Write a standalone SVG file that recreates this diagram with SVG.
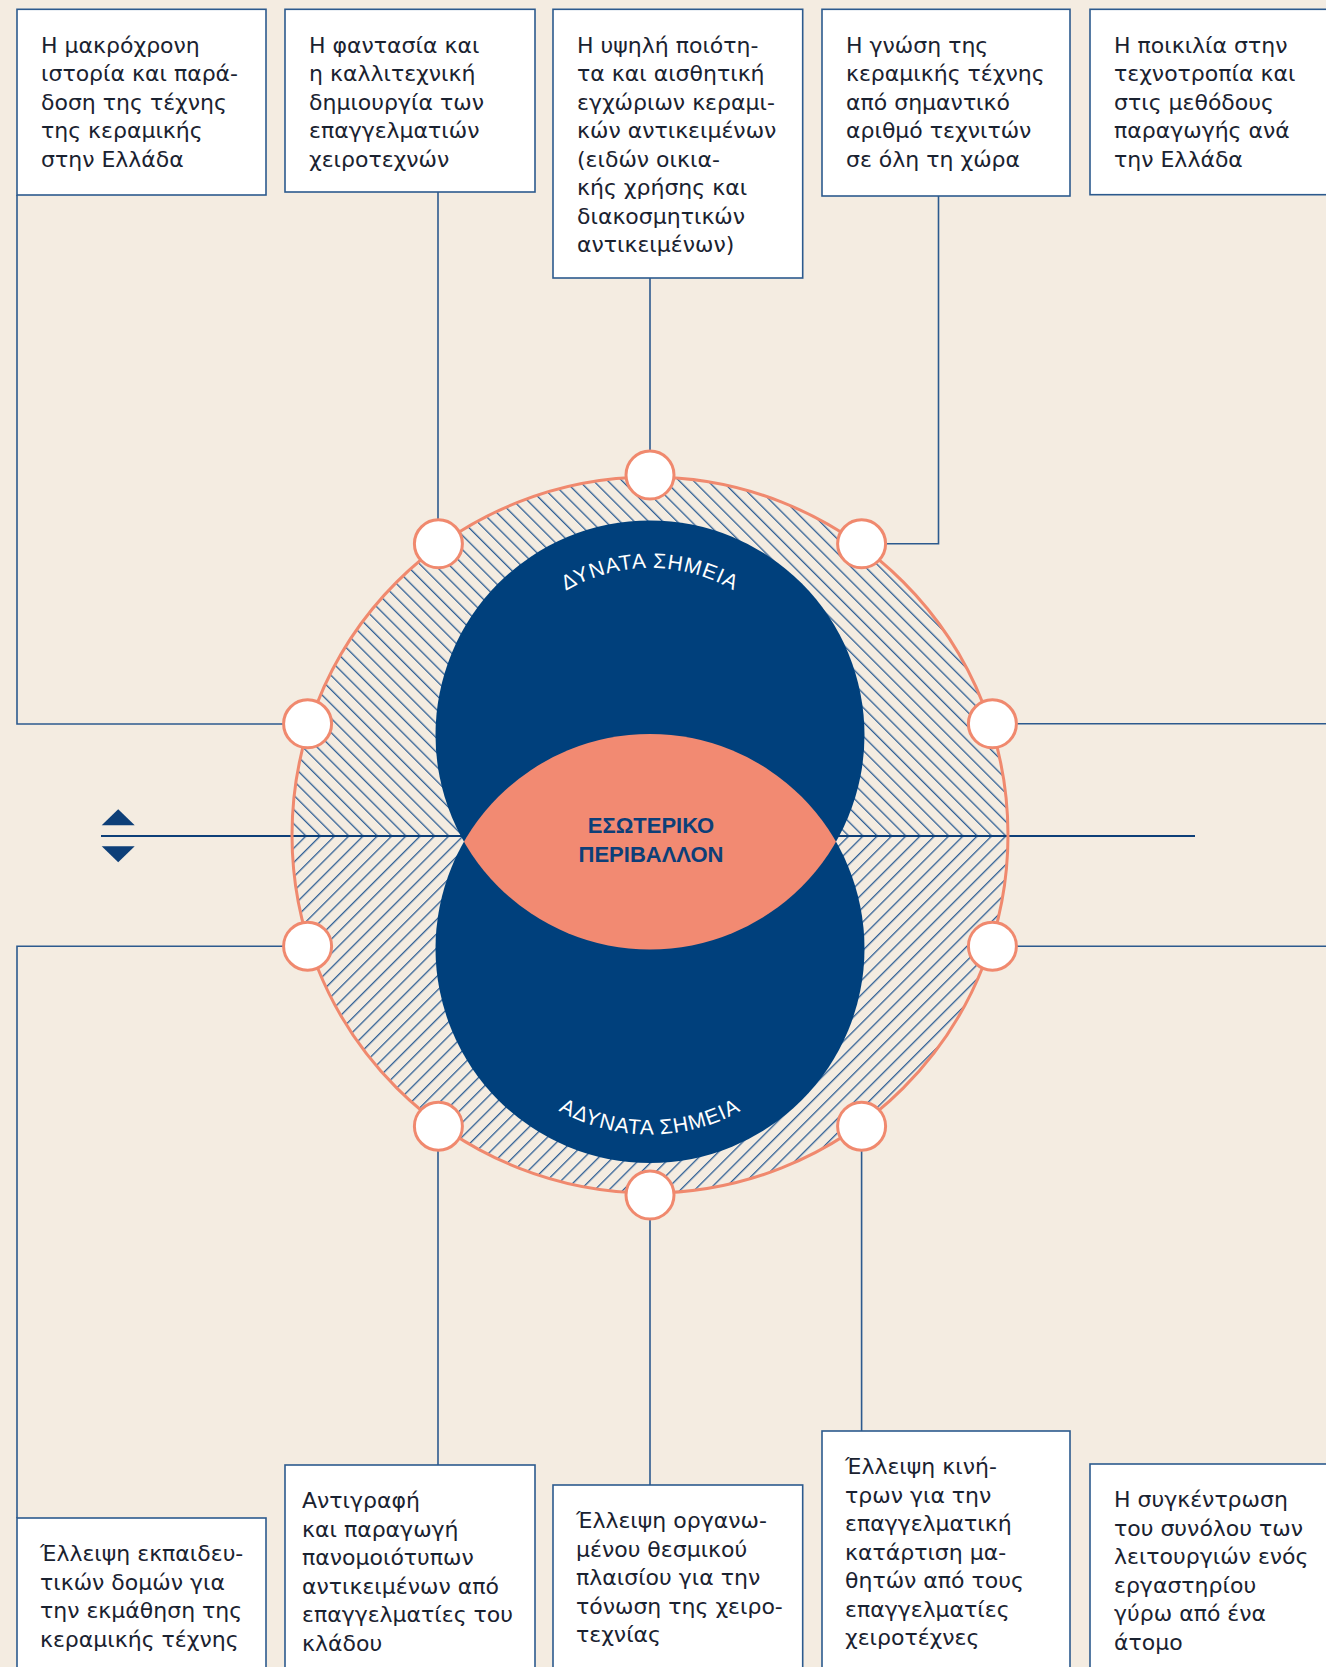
<svg xmlns="http://www.w3.org/2000/svg" width="1326" height="1667" viewBox="0 0 1326 1667">
<style>
.bg{fill:#F4ECE1}
.box{fill:#FFFFFF;stroke:#2C5A8E;stroke-width:1.6}
.txt{font-family:"DejaVu Sans","Noto Sans",sans-serif;font-size:22px;fill:#1A2230}
.con{fill:none;stroke:#2C5A8E;stroke-width:1.6}
.node{fill:#FFFFFF;stroke:#F0896E;stroke-width:3}
.axis{stroke:#0D3F78;stroke-width:2.2}
.lbl{font-family:"Liberation Sans","DejaVu Sans",sans-serif;font-size:21px;fill:#FFFFFF;letter-spacing:1px}
.ctr{font-family:"Liberation Sans","DejaVu Sans",sans-serif;font-size:22px;font-weight:bold;fill:#0D3F78;text-anchor:middle}
</style>
<defs>
<pattern id="hatchA" patternUnits="userSpaceOnUse" width="10.1" height="10.1" patternTransform="translate(305,836) rotate(-45)">
<rect x="0" y="0" width="1.3" height="10.1" fill="#2F5F95"/>
</pattern>
<pattern id="hatchB" patternUnits="userSpaceOnUse" width="10.1" height="10.1" patternTransform="translate(305,836) rotate(45)">
<rect x="0" y="0" width="1.3" height="10.1" fill="#2F5F95"/>
</pattern>
<clipPath id="upper"><rect x="0" y="0" width="1326" height="836"/></clipPath>
<clipPath id="lower"><rect x="0" y="836" width="1326" height="831"/></clipPath>
<clipPath id="topCircle"><circle cx="650" cy="735" r="214.5"/></clipPath>
<path id="arcTop" d="M 483 735 A 167 167 0 0 1 817 735"/>
<path id="arcBot" d="M 464 948.5 A 186 186 0 0 0 836 948.5"/>
</defs>
<rect class="bg" x="0" y="0" width="1326" height="1667"/>

<g id="ring">
<circle cx="650" cy="835" r="358" fill="url(#hatchA)" clip-path="url(#upper)"/>
<circle cx="650" cy="835" r="358" fill="url(#hatchB)" clip-path="url(#lower)"/>
</g>

<g id="axis">
<line class="axis" x1="101" y1="836" x2="1195" y2="836"/>
<polygon points="101.7,825.3 134.7,825.3 118.2,809.3" fill="#0D3F78"/>
<polygon points="101.7,846.3 134.7,846.3 118.2,862.3" fill="#0D3F78"/>
</g>

<g id="core">
<circle cx="650" cy="735" r="214.5" fill="#00407C"/>
<circle cx="650" cy="948.5" r="214.5" fill="#00407C"/>
<circle cx="650" cy="948.5" r="214.5" fill="#F28A72" clip-path="url(#topCircle)"/>
<circle cx="650" cy="835" r="358" fill="none" stroke="#F0896E" stroke-width="3"/>
<text class="lbl"><textPath href="#arcTop" startOffset="50%" text-anchor="middle">ΔΥΝΑΤΑ ΣΗΜΕΙΑ</textPath></text>
<text class="lbl"><textPath href="#arcBot" startOffset="50%" text-anchor="middle">ΑΔΥΝΑΤΑ ΣΗΜΕΙΑ</textPath></text>
<text class="ctr" x="651" y="833">ΕΣΩΤΕΡΙΚΟ</text>
<text class="ctr" x="651" y="862">ΠΕΡΙΒΑΛΛΟΝ</text>
</g>

<g id="connectors">
<polyline class="con" points="17,195 17,724 307.6,724"/>
<polyline class="con" points="438,192 438,543.8"/>
<polyline class="con" points="650,278 650,475"/>
<polyline class="con" points="938.5,196 938.5,543.8 861.6,543.8"/>
<polyline class="con" points="992.4,723.8 1330,723.8"/>
<polyline class="con" points="307.6,946.2 17,946.2 17,1518"/>
<polyline class="con" points="438,1126.2 438,1465"/>
<polyline class="con" points="650,1195 650,1485"/>
<polyline class="con" points="861.6,1126.2 861.6,1431"/>
<polyline class="con" points="992.4,946.2 1330,946.2"/>
</g>

<g id="nodes">
<circle class="node" cx="650" cy="475" r="24"/>
<circle class="node" cx="438.4" cy="543.8" r="24"/>
<circle class="node" cx="861.6" cy="543.8" r="24"/>
<circle class="node" cx="307.6" cy="723.8" r="24"/>
<circle class="node" cx="992.4" cy="723.8" r="24"/>
<circle class="node" cx="307.6" cy="946.2" r="24"/>
<circle class="node" cx="992.4" cy="946.2" r="24"/>
<circle class="node" cx="438.4" cy="1126.2" r="24"/>
<circle class="node" cx="861.6" cy="1126.2" r="24"/>
<circle class="node" cx="650" cy="1195" r="24"/>
</g>

<g id="box-s1">
<rect class="box" x="17" y="9.3" width="249" height="185.7"/>
<text class="txt" x="41" y="52.5"><tspan x="41">Η μακρόχρονη</tspan><tspan x="41" dy="28.5">ιστορία και παρά-</tspan><tspan x="41" dy="28.5">δοση της τέχνης</tspan><tspan x="41" dy="28.5">της κεραμικής</tspan><tspan x="41" dy="28.5">στην Ελλάδα</tspan></text>
</g>
<g id="box-s2">
<rect class="box" x="285" y="9.3" width="250" height="182.7"/>
<text class="txt" x="309" y="52.5"><tspan x="309">Η φαντασία και</tspan><tspan x="309" dy="28.5">η καλλιτεχνική</tspan><tspan x="309" dy="28.5">δημιουργία των</tspan><tspan x="309" dy="28.5">επαγγελματιών</tspan><tspan x="309" dy="28.5">χειροτεχνών</tspan></text>
</g>
<g id="box-s3">
<rect class="box" x="553" y="9.3" width="249.7" height="268.7"/>
<text class="txt" x="577" y="52.5"><tspan x="577">Η υψηλή ποιότη-</tspan><tspan x="577" dy="28.5">τα και αισθητική</tspan><tspan x="577" dy="28.5">εγχώριων κεραμι-</tspan><tspan x="577" dy="28.5">κών αντικειμένων</tspan><tspan x="577" dy="28.5">(ειδών οικια-</tspan><tspan x="577" dy="28.5">κής χρήσης και</tspan><tspan x="577" dy="28.5">διακοσμητικών</tspan><tspan x="577" dy="28.5">αντικειμένων)</tspan></text>
</g>
<g id="box-s4">
<rect class="box" x="822" y="9.3" width="248" height="186.7"/>
<text class="txt" x="846" y="52.5"><tspan x="846">Η γνώση της</tspan><tspan x="846" dy="28.5">κεραμικής τέχνης</tspan><tspan x="846" dy="28.5">από σημαντικό</tspan><tspan x="846" dy="28.5">αριθμό τεχνιτών</tspan><tspan x="846" dy="28.5">σε όλη τη χώρα</tspan></text>
</g>
<g id="box-s5">
<rect class="box" x="1090" y="9.3" width="250" height="185.4"/>
<text class="txt" x="1114" y="52.5"><tspan x="1114">Η ποικιλία στην</tspan><tspan x="1114" dy="28.5">τεχνοτροπία και</tspan><tspan x="1114" dy="28.5">στις μεθόδους</tspan><tspan x="1114" dy="28.5">παραγωγής ανά</tspan><tspan x="1114" dy="28.5">την Ελλάδα</tspan></text>
</g>

<g id="box-w1">
<rect class="box" x="17" y="1518" width="249" height="170"/>
<text class="txt" x="40" y="1561"><tspan x="40">Έλλειψη εκπαιδευ-</tspan><tspan x="40" dy="28.5">τικών δομών για</tspan><tspan x="40" dy="28.5">την εκμάθηση της</tspan><tspan x="40" dy="28.5">κεραμικής τέχνης</tspan></text>
</g>
<g id="box-w2">
<rect class="box" x="285" y="1465" width="250" height="220"/>
<text class="txt" x="302" y="1508"><tspan x="302">Αντιγραφή</tspan><tspan x="302" dy="28.5">και παραγωγή</tspan><tspan x="302" dy="28.5">πανομοιότυπων</tspan><tspan x="302" dy="28.5">αντικειμένων από</tspan><tspan x="302" dy="28.5">επαγγελματίες του</tspan><tspan x="302" dy="28.5">κλάδου</tspan></text>
</g>
<g id="box-w3">
<rect class="box" x="553" y="1485" width="249.7" height="200"/>
<text class="txt" x="576" y="1528"><tspan x="576">Έλλειψη οργανω-</tspan><tspan x="576" dy="28.5">μένου θεσμικού</tspan><tspan x="576" dy="28.5">πλαισίου για την</tspan><tspan x="576" dy="28.5">τόνωση της χειρο-</tspan><tspan x="576" dy="28.5">τεχνίας</tspan></text>
</g>
<g id="box-w4">
<rect class="box" x="822" y="1431" width="248" height="250"/>
<text class="txt" x="845" y="1474"><tspan x="845">Έλλειψη κινή-</tspan><tspan x="845" dy="28.5">τρων για την</tspan><tspan x="845" dy="28.5">επαγγελματική</tspan><tspan x="845" dy="28.5">κατάρτιση μα-</tspan><tspan x="845" dy="28.5">θητών από τους</tspan><tspan x="845" dy="28.5">επαγγελματίες</tspan><tspan x="845" dy="28.5">χειροτέχνες</tspan></text>
</g>
<g id="box-w5">
<rect class="box" x="1090" y="1464" width="250" height="220"/>
<text class="txt" x="1114" y="1507"><tspan x="1114">Η συγκέντρωση</tspan><tspan x="1114" dy="28.5">του συνόλου των</tspan><tspan x="1114" dy="28.5">λειτουργιών ενός</tspan><tspan x="1114" dy="28.5">εργαστηρίου</tspan><tspan x="1114" dy="28.5">γύρω από ένα</tspan><tspan x="1114" dy="28.5">άτομο</tspan></text>
</g>
</svg>
